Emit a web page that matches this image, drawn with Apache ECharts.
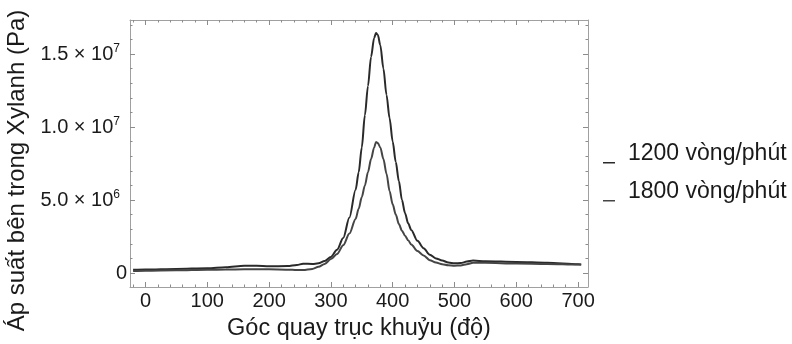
<!DOCTYPE html>
<html>
<head>
<meta charset="utf-8">
<script src="https://cdn.jsdelivr.net/npm/echarts@6/dist/echarts.min.js"></script>
<style>
  html, body { margin: 0; padding: 0; background: #ffffff; }
  #chart { width: 792px; height: 344px; }
</style>
</head>
<body>
<div id="chart"></div>
<script>
// Crank angle (degrees) shared by both engine-speed curves
const crankAngle = [-20, 0, 50, 100, 130, 160, 180, 200, 230, 245, 255, 270, 280, 290, 300, 310, 320, 330, 340, 345, 350, 355, 360, 365, 370, 373, 376, 380, 385, 390, 395, 400, 405, 410, 415, 420, 425, 430, 440, 450, 460, 470, 480, 490, 500, 510, 520, 530, 550, 600, 650, 700, 705];

// Cylinder pressure (Pa) at 1200 rpm
const pressure1200 = [0.22e6, 0.24e6, 0.28e6, 0.33e6, 0.40e6, 0.50e6, 0.50e6, 0.46e6, 0.47e6, 0.55e6, 0.63e6, 0.62e6, 0.66e6, 0.82e6, 1.1e6, 1.6e6, 2.4e6, 3.8e6, 5.7e6, 6.9e6, 8.6e6, 10.8e6, 12.8e6, 14.8e6, 16.1e6, 16.44e6, 16.3e6, 15.6e6, 14.0e6, 12.2e6, 10.6e6, 9.0e6, 7.6e6, 6.3e6, 5.0e6, 4.1e6, 3.4e6, 2.95e6, 2.2e6, 1.7e6, 1.25e6, 1.0e6, 0.85e6, 0.72e6, 0.66e6, 0.68e6, 0.78e6, 0.85e6, 0.80e6, 0.76e6, 0.70e6, 0.60e6, 0.59e6];

// Cylinder pressure (Pa) at 1800 rpm
const pressure1800 = [0.13e6, 0.15e6, 0.18e6, 0.22e6, 0.24e6, 0.25e6, 0.25e6, 0.25e6, 0.23e6, 0.20e6, 0.20e6, 0.28e6, 0.42e6, 0.62e6, 0.95e6, 1.3e6, 1.9e6, 2.7e6, 3.7e6, 4.4e6, 5.2e6, 6.0e6, 6.9e6, 7.8e6, 8.6e6, 8.98e6, 8.9e6, 8.6e6, 7.8e6, 6.8e6, 5.6e6, 4.7e6, 4.0e6, 3.35e6, 2.9e6, 2.55e6, 2.25e6, 1.95e6, 1.5e6, 1.2e6, 0.88e6, 0.72e6, 0.60e6, 0.53e6, 0.50e6, 0.52e6, 0.60e6, 0.70e6, 0.70e6, 0.65e6, 0.62e6, 0.58e6, 0.57e6];

const seriesNames = ['1200 vòng/phút', '1800 vòng/phút'];

// Tick positions and labels
const xMajorTicks = [0, 100, 200, 300, 400, 500, 600, 700];
const yMajorTicks = [0, 5e6, 1e7, 1.5e7];
const yTickMantissa = ['0', '5.0', '1.0', '1.5'];
const yTickExponent = ['', '6', '7', '7'];

const xMinorTicks = [];
for (let v = -20; v <= 710; v += 20) if (v % 100 !== 0) xMinorTicks.push(v);
const yMinorTicks = [];
for (let v = 0; v <= 17e6; v += 1e6) if (v % 5e6 !== 0) yMinorTicks.push(v);

const X_MIN = -25, X_MAX = 716;
const Y_MIN = -0.96e6, Y_MAX = 17.33e6;

const FONT = 'Liberation Sans, Arial, sans-serif';
const TEXT = '#1a1a1a';
const FRAME = '#a0a0a0';
const TICK = '#8c8c8c';
const lineColors = ['#2a2a2a', '#454545'];

function xAxisDef(position, ticks, len, withLine, withLabel) {
  const ax = {
    type: 'value', position: position, min: X_MIN, max: X_MAX,
    axisLine: { show: withLine, onZero: false, lineStyle: { color: FRAME, width: 1 } },
    axisTick: { show: true, inside: true, length: len, customValues: ticks, lineStyle: { color: TICK, width: 1 } },
    axisLabel: { show: false },
    splitLine: { show: false }
  };
  if (withLabel) {
    ax.axisLabel = { show: true, customValues: xMajorTicks, fontSize: 20, color: TEXT, fontFamily: FONT, margin: 4 };
    ax.name = 'Góc quay trục khuỷu (độ)';
    ax.nameLocation = 'middle';
    ax.nameGap = 30;
    ax.nameTextStyle = { fontSize: 23.5, color: TEXT, fontFamily: FONT };
  }
  return ax;
}

function yAxisDef(position, ticks, len, withLine, withLabel) {
  const ax = {
    type: 'value', position: position, min: Y_MIN, max: Y_MAX,
    axisLine: { show: withLine, onZero: false, lineStyle: { color: FRAME, width: 1 } },
    axisTick: { show: true, inside: true, length: len, customValues: ticks, lineStyle: { color: TICK, width: 1 } },
    axisLabel: { show: false },
    splitLine: { show: false }
  };
  if (withLabel) {
    ax.axisLabel = {
      show: true, customValues: yMajorTicks, margin: 3,
      formatter: function (v) {
        const i = yMajorTicks.indexOf(v);
        if (i < 0) return '';
        return yTickExponent[i]
          ? '{m|' + yTickMantissa[i] + ' × 10}{e|' + yTickExponent[i] + '}'
          : '{m|' + yTickMantissa[i] + '}';
      },
      rich: {
        m: { fontSize: 20, lineHeight: 22, color: TEXT, fontFamily: FONT },
        e: { fontSize: 12, lineHeight: 12, color: TEXT, fontFamily: FONT, verticalAlign: 'top', padding: [0, 7, 0, 0] }
      }
    };
    ax.name = 'Áp suất bên trong Xylanh (Pa)';
    ax.nameLocation = 'middle';
    ax.nameGap = 96;
    ax.nameRotate = 90;
    ax.nameTextStyle = { fontSize: 24, color: TEXT, fontFamily: FONT, padding: [0, 34, 0, 0] };
  }
  return ax;
}

const chart = echarts.init(document.getElementById('chart'), null, { renderer: 'canvas' });

chart.setOption({
  animation: false,
  backgroundColor: '#ffffff',
  grid: { left: 130, top: 20, right: 204, bottom: 57, outerBoundsMode: 'none' },
  xAxis: [
    xAxisDef('bottom', xMajorTicks, 5, true, true),
    xAxisDef('bottom', xMinorTicks, 2.5, false, false),
    xAxisDef('top', xMajorTicks, 5, true, false),
    xAxisDef('top', xMinorTicks, 2.5, false, false)
  ],
  yAxis: [
    yAxisDef('left', yMajorTicks, 5, true, true),
    yAxisDef('left', yMinorTicks, 2.5, false, false),
    yAxisDef('right', yMajorTicks, 5, true, false),
    yAxisDef('right', yMinorTicks, 2.5, false, false)
  ],
  legend: {
    data: seriesNames,
    orient: 'vertical',
    left: 603, top: 142, padding: 0,
    itemGap: 15, itemWidth: 20, itemHeight: 22,
    icon: 'path://M0,0L0.01,0L0.01,0.01Z M0,19.5L12,19.5L12,21L0,21Z M19.99,22L20,22L20,21.99Z',
    selectedMode: false,
    itemStyle: { borderWidth: 0 },
    textStyle: { fontSize: 23, color: TEXT, fontFamily: FONT }
  },
  series: [
    {
      name: seriesNames[0], type: 'line', xAxisIndex: 0, yAxisIndex: 0,
      data: crankAngle.map((a, i) => [a, pressure1200[i]]),
      showSymbol: false, smooth: 0.3, smoothMonotone: 'x',
      lineStyle: { width: 2, color: lineColors[0] },
      itemStyle: { color: lineColors[0] }
    },
    {
      name: seriesNames[1], type: 'line', xAxisIndex: 0, yAxisIndex: 0,
      data: crankAngle.map((a, i) => [a, pressure1800[i]]),
      showSymbol: false, smooth: 0.3, smoothMonotone: 'x',
      lineStyle: { width: 2, color: lineColors[1] },
      itemStyle: { color: lineColors[1] }
    }
  ]
});
</script>
</body>
</html>
